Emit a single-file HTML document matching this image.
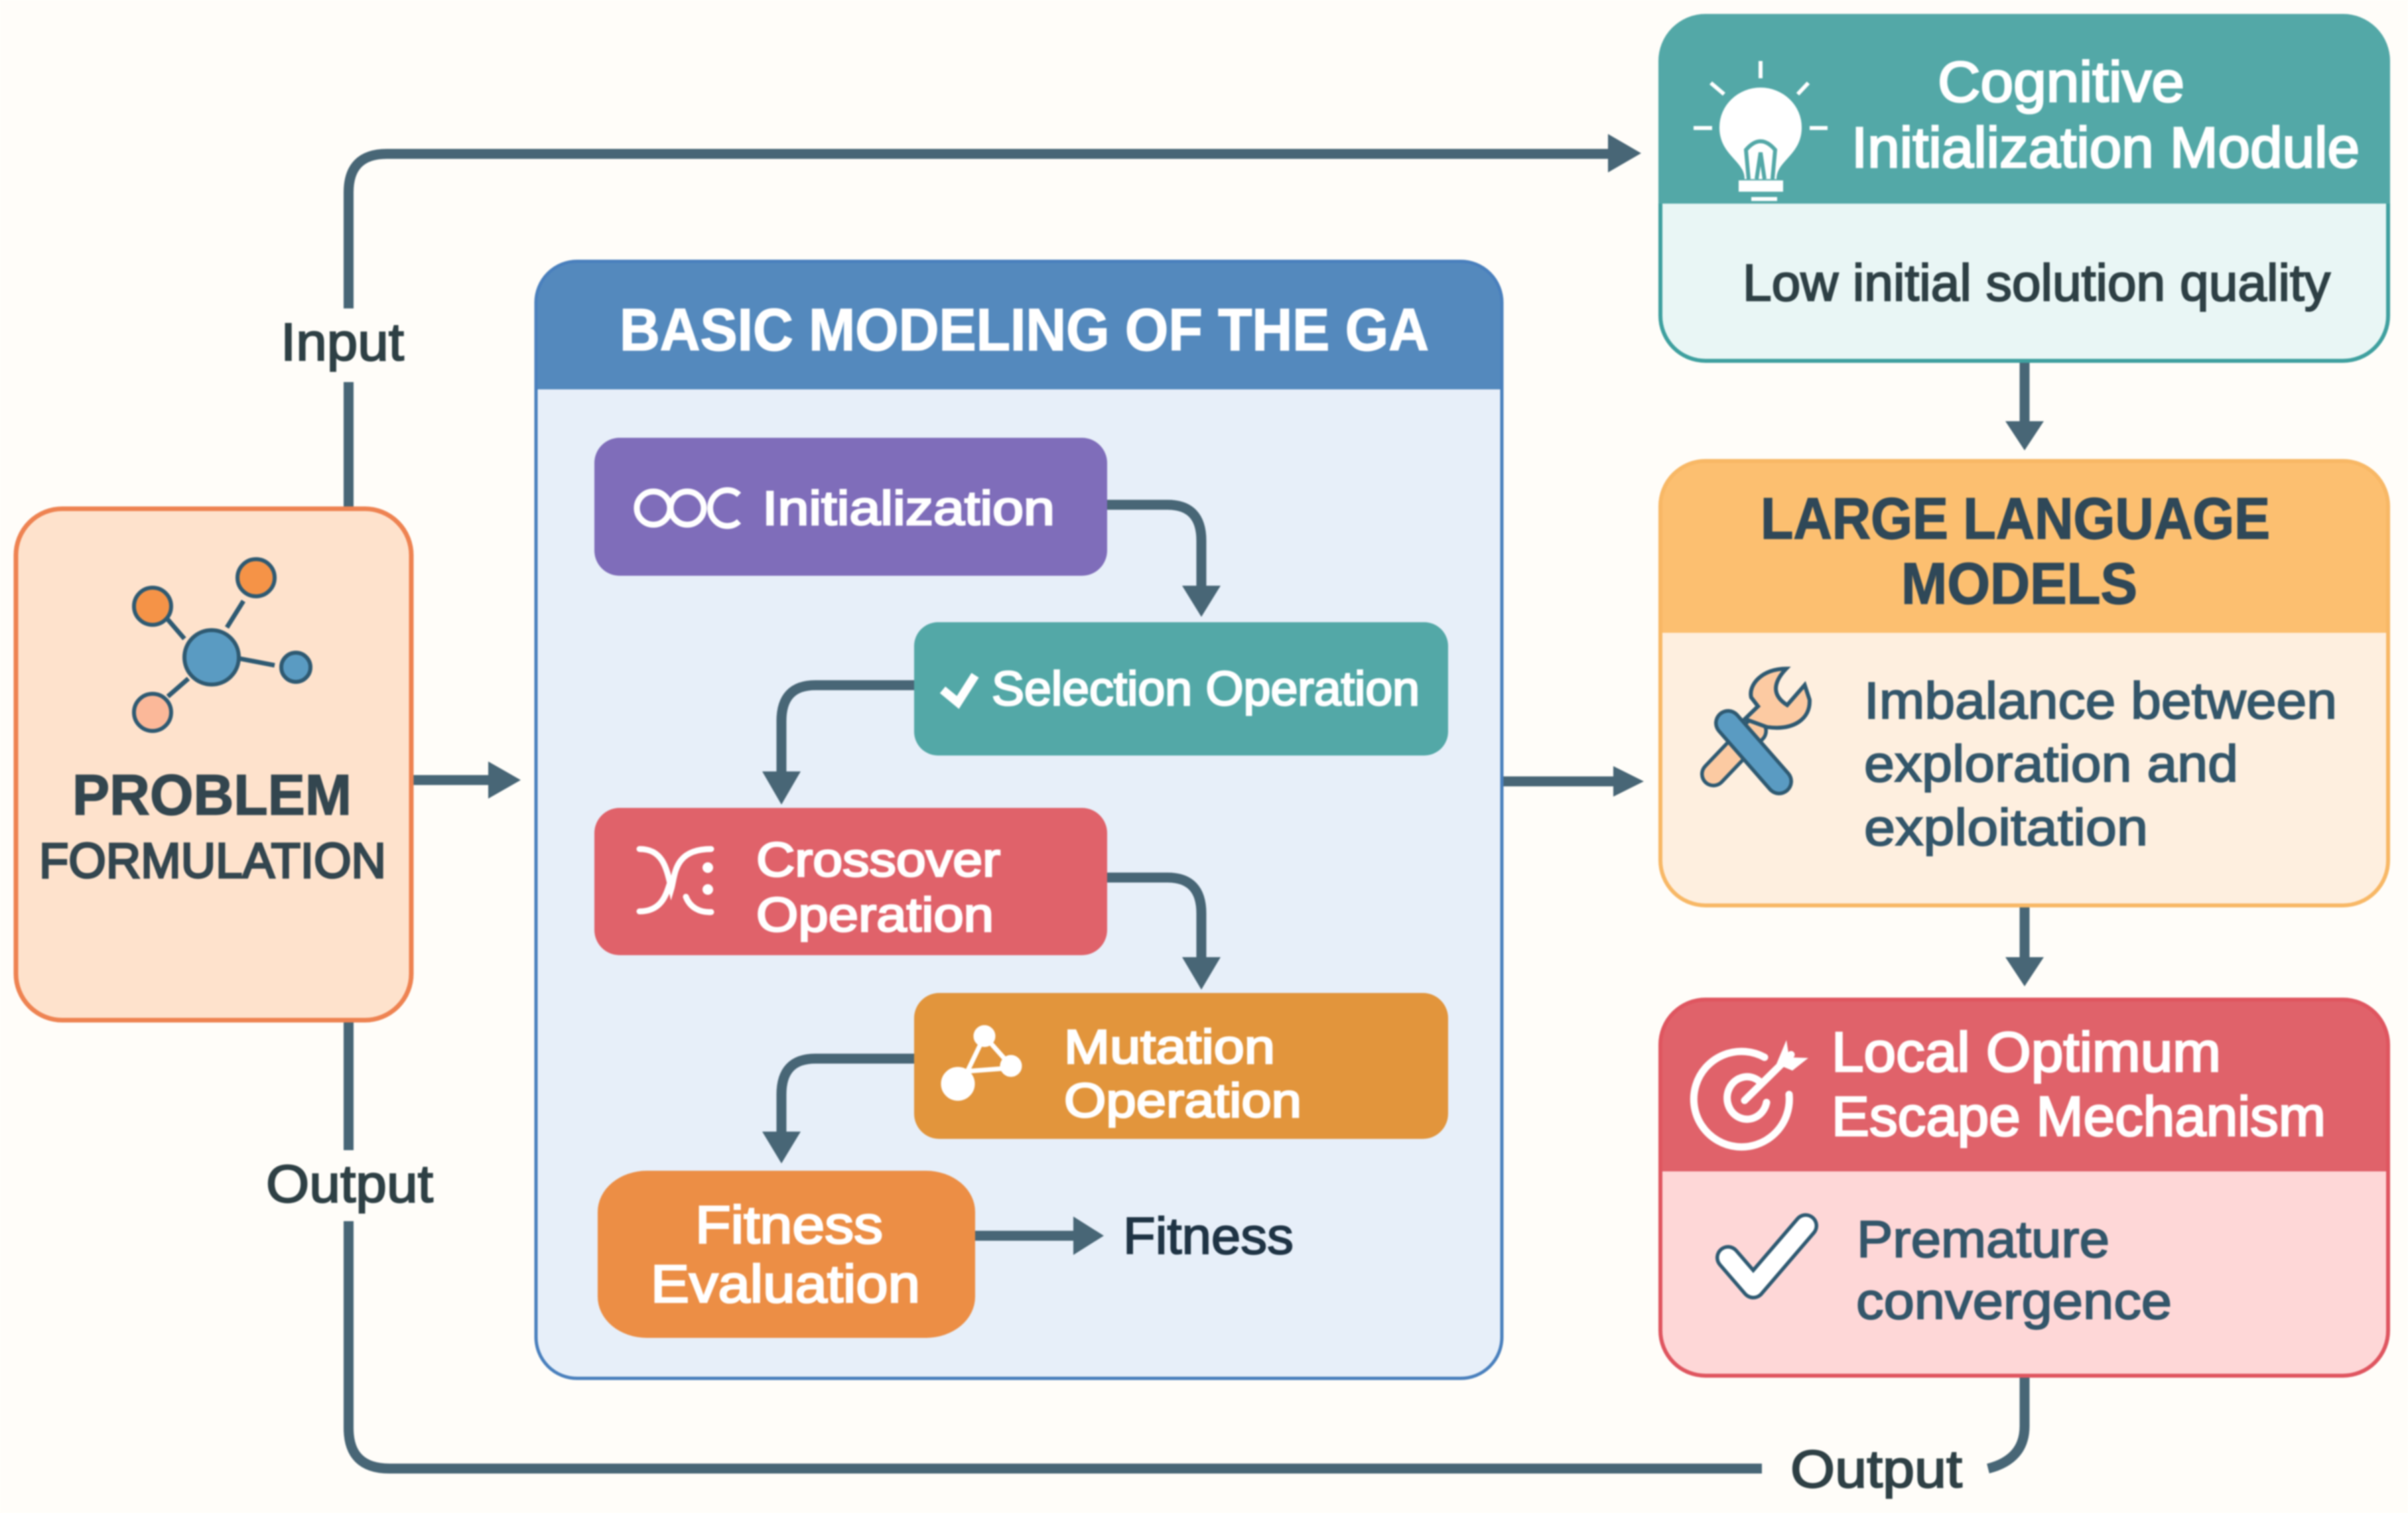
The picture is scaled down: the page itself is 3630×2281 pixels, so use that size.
<!DOCTYPE html>
<html lang="en"><head><meta charset="utf-8"><title>GA with LLM diagram</title>
<style>
html,body{margin:0;padding:0;background:#fffdf9;}
svg{display:block;filter:blur(1px);}
text{font-family:"Liberation Sans",sans-serif;}
.ns *{vector-effect:non-scaling-stroke;}
.w{fill:#fff;stroke:#fff;stroke-width:2.8px;}
.d{fill:#2e4045;stroke:#2e4045;stroke-width:2.2px;}
.l{fill:#33566a;stroke:#33566a;stroke-width:2px;}
.conn{fill:none;stroke:#486676;stroke-width:15;}
.h{fill:#486676;}
</style></head><body>
<svg width="3630" height="2281" viewBox="0 0 3630 2281" xmlns="http://www.w3.org/2000/svg">
<rect width="3630" height="2281" fill="#fffdf9"/>

<!-- outer connectors -->
<path class="conn" d="M525.5,766 V576 M525.5,465 V290 Q525.5,232 583,232 H2430"/>
<polygon class="h" points="2424,202 2474,231 2424,260"/>
<path class="conn" d="M525.5,1538 V1734 M525.5,1841 V2153 Q525.5,2214 587,2214 H2656"/>
<path class="conn" d="M3052,2075 V2150 Q3052,2200 2997,2214" stroke-width="13"/>
<path class="conn" d="M622,1176 H745"/>
<polygon class="h" points="736,1148 785,1176 736,1204"/>
<path class="conn" d="M2264,1178 H2440"/>
<polygon class="h" points="2432,1155 2478,1178 2432,1201"/>
<path class="conn" d="M3052,544 V640"/>
<polygon class="h" points="3023,635 3081,635 3052,679"/>
<path class="conn" d="M3052,1365 V1450"/>
<polygon class="h" points="3023,1443 3081,1443 3052,1487"/>

<!-- labels -->
<text class="d" x="423" y="543" font-size="80" textLength="186" lengthAdjust="spacingAndGlyphs">Input</text>
<text class="d" x="401" y="1812" font-size="80" textLength="252" lengthAdjust="spacingAndGlyphs">Output</text>
<text class="d" x="2699" y="2242" font-size="80" textLength="259" lengthAdjust="spacingAndGlyphs">Output</text>

<!-- problem formulation -->
<rect x="24" y="767" width="596" height="771" rx="70" ry="70" fill="#fee2cc" stroke="#ee8352" stroke-width="7"/>
<g stroke="#2f5a72" stroke-width="7" fill="none">
<path d="M253,934 L278,963 M367,906 L342,946 M362,993 L414,1003 M284,1023 L253,1050"/>
</g>
<g stroke="#2f5a72" stroke-width="6">
<circle cx="319" cy="991" r="41" fill="#5a9bc2"/>
<circle cx="386" cy="871" r="28" fill="#f59347"/>
<circle cx="230" cy="914" r="28" fill="#f59347"/>
<circle cx="230" cy="1074" r="28" fill="#fbb899"/>
<circle cx="446" cy="1006" r="22" fill="#5a9bc2"/>
</g>
<text x="109" y="1228" font-size="86" font-weight="700" fill="#33464f" stroke="#33464f" stroke-width="1.5" textLength="421" lengthAdjust="spacingAndGlyphs">PROBLEM</text>
<text x="59" y="1323" font-size="74" fill="#33464f" stroke="#33464f" stroke-width="3.2" textLength="523" lengthAdjust="spacingAndGlyphs">FORMULATION</text>

<!-- GA panel -->
<rect x="808" y="394" width="1456" height="1684" rx="62" ry="62" fill="#e7eff9"/>
<path d="M808,587 V456 A62,62 0 0 1 870,394 H2202 A62,62 0 0 1 2264,456 V587 Z" fill="#5489bd"/>
<rect x="808" y="394" width="1456" height="1684" rx="62" ry="62" fill="none" stroke="#4a80bd" stroke-width="5"/>
<text x="934" y="528" font-size="90" font-weight="700" fill="#fff" stroke="#fff" stroke-width="1.5" textLength="1220" lengthAdjust="spacingAndGlyphs">BASIC MODELING OF THE GA</text>

<!-- inner connectors -->
<path class="conn" d="M1669,761 H1760 Q1811,761 1811,815 V890"/>
<polygon class="h" points="1782,883 1840,883 1811,930"/>
<path class="conn" d="M1379,1033 H1229 Q1178,1033 1178,1087 V1170"/>
<polygon class="h" points="1149,1163 1207,1163 1178,1213"/>
<path class="conn" d="M1669,1323 H1760 Q1811,1323 1811,1377 V1450"/>
<polygon class="h" points="1782,1443 1840,1443 1811,1492"/>
<path class="conn" d="M1379,1596 H1229 Q1178,1596 1178,1650 V1712"/>
<polygon class="h" points="1149,1706 1207,1706 1178,1754"/>
<path class="conn" d="M1470,1863 H1625"/>
<polygon class="h" points="1618,1834 1664,1863 1618,1892"/>

<!-- steps -->
<rect x="896" y="660" width="773" height="208" rx="38" fill="#7f6dba"/>
<g fill="none" stroke="#fff" stroke-width="9">
<circle cx="985" cy="766" r="25"/>
<circle cx="1036" cy="766" r="25"/>
<path d="M1114,746 A26,27 0 1 0 1114,786"/>
</g>
<text class="w" x="1149" y="791" font-size="72" textLength="441" lengthAdjust="spacingAndGlyphs">Initialization</text>

<rect x="1378" y="938" width="805" height="201" rx="36" fill="#53a8a7"/>
<path d="M1421,1040 L1444,1059 L1470,1018" fill="none" stroke="#fff" stroke-width="13"/>
<text class="w" x="1495" y="1063" font-size="72" textLength="645" lengthAdjust="spacingAndGlyphs">Selection Operation</text>

<rect x="896" y="1218" width="773" height="222" rx="38" fill="#e0626a"/>
<g fill="none" stroke="#fff" stroke-width="9" stroke-linecap="round">
<path d="M964,1280 C1000,1280 1005,1310 1012,1340 C1018,1320 1015,1280 1072,1280"/>
<path d="M964,1374 C1000,1374 1005,1345 1012,1325"/>
<path d="M1034,1352 C1040,1368 1055,1376 1072,1375"/>
</g>
<circle cx="1067" cy="1308" r="8" fill="#fff"/><circle cx="1067" cy="1341" r="8" fill="#fff"/>
<text class="w" x="1140" y="1321" font-size="72" textLength="368" lengthAdjust="spacingAndGlyphs">Crossover</text>
<text class="w" x="1140" y="1404" font-size="72" textLength="358" lengthAdjust="spacingAndGlyphs">Operation</text>

<rect x="1378" y="1497" width="805" height="220" rx="38" fill="#e2953c"/>
<g fill="#fff" stroke="#fff" stroke-width="7">
<path d="M1484,1562 L1456,1620 M1484,1562 L1524,1607 M1458,1615 L1524,1610" fill="none"/>
<circle cx="1444" cy="1634" r="22"/><circle cx="1484" cy="1562" r="13"/><circle cx="1524" cy="1607" r="13"/>
</g>
<text class="w" x="1604" y="1603" font-size="72" textLength="318" lengthAdjust="spacingAndGlyphs">Mutation</text>
<text class="w" x="1604" y="1684" font-size="72" textLength="358" lengthAdjust="spacingAndGlyphs">Operation</text>

<rect x="901" y="1765" width="569" height="252" rx="74" ry="62" fill="#ec8e45"/>
<text class="w" x="1048" y="1874" font-size="80" textLength="283" lengthAdjust="spacingAndGlyphs">Fitness</text>
<text class="w" x="981" y="1963" font-size="80" textLength="406" lengthAdjust="spacingAndGlyphs">Evaluation</text>

<text x="1693" y="1890" font-size="78" fill="#1f3445" stroke="#1f3445" stroke-width="2" textLength="257" lengthAdjust="spacingAndGlyphs">Fitness</text>

<!-- Cognitive panel -->
<rect x="2503" y="24" width="1097" height="520" rx="68" fill="#e9f6f5"/>
<path d="M2503,307 V92 A68,68 0 0 1 2571,24 H3532 A68,68 0 0 1 3600,92 V307 Z" fill="#53a8a7"/>
<path d="M2503,307 V92 A68,68 0 0 1 2571,24 H3532 A68,68 0 0 1 3600,92 V307" fill="none" stroke="#53a8a7" stroke-width="6"/>
<path d="M2503,307 V476 A68,68 0 0 0 2571,544 H3532 A68,68 0 0 0 3600,476 V307" fill="none" stroke="#3fa09f" stroke-width="6"/>
<path d="M2630,270 C2630,242 2592,234 2592,192 A62,60 0 0 1 2716,192 C2716,234 2678,242 2678,270 Z" fill="#fff"/>
<path d="M2636,270 L2632,226 Q2654,200 2676,226 L2672,270 M2648,270 L2654,230 L2660,270" fill="none" stroke="#53a8a7" stroke-width="6"/>
<rect x="2621" y="272" width="67" height="17" fill="#fff"/>
<rect x="2640" y="297" width="39" height="6" fill="#fff"/>
<path d="M2654,92 V118 M2553,193 H2581 M2728,193 H2755 M2579,125 L2599,142 M2726,125 L2710,142" stroke="#fff" stroke-width="6" fill="none"/>
<text class="w" x="2921" y="153" font-size="86" textLength="372" lengthAdjust="spacingAndGlyphs">Cognitive</text>
<text class="w" x="2791" y="252" font-size="86" textLength="766" lengthAdjust="spacingAndGlyphs">Initialization Module</text>
<text class="d" x="2627" y="453" font-size="78" textLength="886" lengthAdjust="spacingAndGlyphs">Low initial solution quality</text>

<!-- LLM panel -->
<rect x="2503" y="695" width="1097" height="670" rx="68" fill="#feefdf"/>
<path d="M2503,954 V763 A68,68 0 0 1 2571,695 H3532 A68,68 0 0 1 3600,763 V954 Z" fill="#fcbf70"/>
<rect x="2503" y="695" width="1097" height="670" rx="68" fill="none" stroke="#f8b866" stroke-width="6"/>
<text x="2654" y="812" font-size="88" font-weight="700" fill="#2f4858" stroke="#2f4858" stroke-width="1.5" textLength="768" lengthAdjust="spacingAndGlyphs">LARGE LANGUAGE</text>
<text x="2866" y="910" font-size="88" font-weight="700" fill="#2f4858" stroke="#2f4858" stroke-width="1.5" textLength="356" lengthAdjust="spacingAndGlyphs">MODELS</text>
<path d="M2583,1167 L2645,1102" stroke="#2f5a72" stroke-width="40" stroke-linecap="round" fill="none"/>
<path d="M2583,1167 L2645,1102" stroke="#fccaa2" stroke-width="29" stroke-linecap="round" fill="none"/>
<g class="ns" transform="translate(2480,680) scale(0.7334,0.4464)">
<path d="M290,735 C240,735 212,790 218,832 L232,862 L205,905 L250,932 C305,945 340,905 338,840 L328,790 L292,858 C265,830 258,790 290,735Z" fill="#fccaa2" stroke="#2f5a72" stroke-width="6"/>
</g>
<path d="M2605,1090 L2682,1178" stroke="#2f5a72" stroke-width="42" stroke-linecap="round" fill="none"/>
<path d="M2605,1090 L2682,1178" stroke="#5a9bc2" stroke-width="31" stroke-linecap="round" fill="none"/>
<text class="l" x="2810" y="1083" font-size="78" textLength="713" lengthAdjust="spacingAndGlyphs">Imbalance between</text>
<text class="l" x="2810" y="1178" font-size="78" textLength="564" lengthAdjust="spacingAndGlyphs">exploration and</text>
<text class="l" x="2810" y="1274" font-size="78" textLength="428" lengthAdjust="spacingAndGlyphs">exploitation</text>

<!-- Local optimum panel -->
<rect x="2503" y="1507" width="1097" height="567" rx="68" fill="#fed7d7"/>
<path d="M2503,1766 V1575 A68,68 0 0 1 2571,1507 H3532 A68,68 0 0 1 3600,1575 V1766 Z" fill="#e0626a"/>
<rect x="2503" y="1507" width="1097" height="567" rx="68" fill="none" stroke="#df5660" stroke-width="6"/>
<g fill="none" stroke="#fff" stroke-width="11" stroke-linecap="round">
<path d="M2660,1594 A72,72 0 1 0 2697,1650"/>
<path d="M2652,1630 A30,32 0 1 0 2663,1662"/>
<path d="M2630,1659 L2700,1590"/>
</g>
<polygon points="2693,1568 2697,1594 2726,1595 2702,1614 2678,1604" fill="#fff"/>
<text class="w" x="2761" y="1615" font-size="84" textLength="587" lengthAdjust="spacingAndGlyphs">Local Optimum</text>
<text class="w" x="2761" y="1712" font-size="84" textLength="745" lengthAdjust="spacingAndGlyphs">Escape Mechanism</text>
<path d="M2605,1896 L2643,1940 L2722,1848" fill="none" stroke="#2f5a72" stroke-width="38" stroke-linecap="round" stroke-linejoin="round"/>
<path d="M2605,1896 L2643,1940 L2722,1848" fill="none" stroke="#fff" stroke-width="27" stroke-linecap="round" stroke-linejoin="round"/>
<text class="l" x="2799" y="1895" font-size="78" textLength="381" lengthAdjust="spacingAndGlyphs">Premature</text>
<text class="l" x="2798" y="1988" font-size="78" textLength="476" lengthAdjust="spacingAndGlyphs">convergence</text>
</svg>
</body></html>
